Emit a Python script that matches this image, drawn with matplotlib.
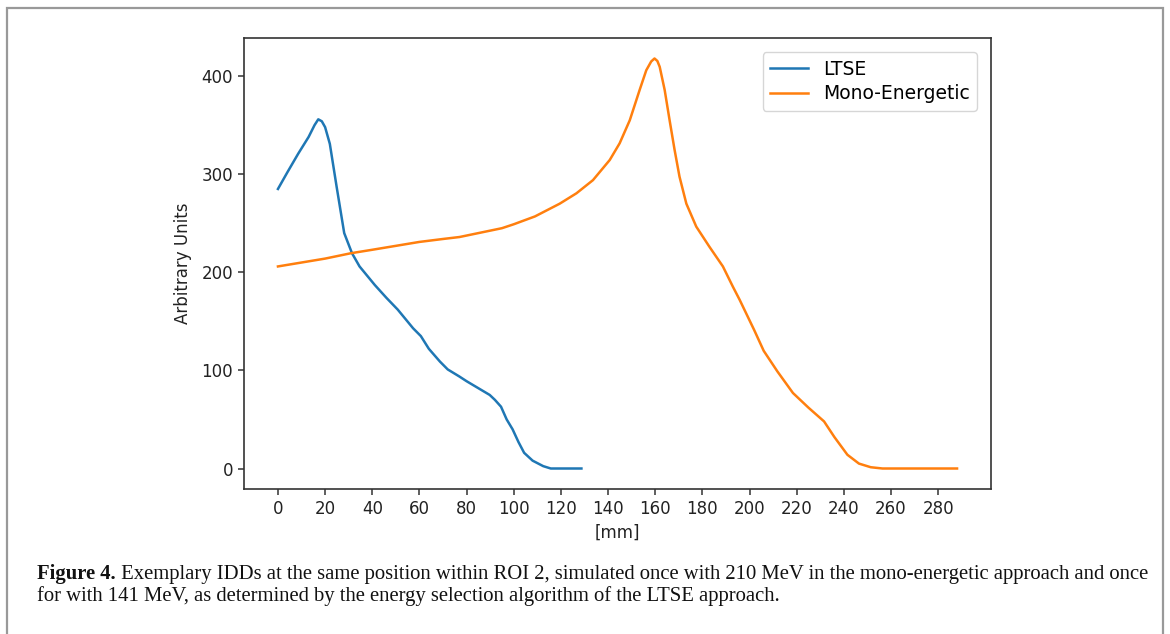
import matplotlib
matplotlib.use("Agg")
import matplotlib.pyplot as plt
from matplotlib.patches import Rectangle

# depth [mm] and dose [arbitrary units]
ltse_x = [0, 4, 8.6, 13, 15.5, 17.1, 18.6, 20, 22, 24.9, 28.1, 31.4, 34.6, 41.1,
          46, 50.8, 57.3, 60.6, 64, 68.7, 72, 76.8, 80, 84.9, 89.8, 92, 94.6,
          97, 99.5, 102, 104.4, 108, 112.5, 115.7, 120, 128.7]
ltse_y = [285, 302, 321, 338, 350, 356, 354, 348, 331, 287, 240, 219.5, 206, 187,
          174, 162, 143, 135, 122, 109, 101, 94, 89, 82, 75, 70, 63,
          50, 40, 27, 16, 8, 2.4, 0, 0, 0]

mono_x = [0, 10, 20, 31, 40, 50, 60, 70, 77, 85, 95, 100, 109, 119.5, 126.6,
          133.6, 140.7, 144.9, 149.2, 153.4, 156.2, 158.3, 159.7, 160.9, 161.9,
          164, 166.1, 168.2, 170.3, 173.2, 177.4, 183, 188.7, 192.9, 195.8, 202,
          206, 211.8, 218.4, 225, 231.6, 236, 241.5, 246.4, 251.4, 256.4, 270,
          288]
mono_y = [206, 210, 214, 219.5, 223, 227, 231, 234, 236, 240, 245, 249, 257, 270,
          280.6, 294, 314.5, 331.5, 355, 386, 406, 415, 418, 415.5, 409.5, 386,
          355, 325, 297.5, 270, 246.6, 226, 206, 185.5, 172, 141, 120, 99, 77, 62,
          48, 32, 14, 5, 1.3, 0, 0, 0]

x_ticks = list(range(0, 281, 20))
y_ticks = [0, 100, 200, 300, 400]

caption_bold = "Figure 4."
caption_line1 = (" Exemplary IDDs at the same position within ROI 2, simulated once "
                 "with 210 MeV in the mono-energetic approach and once")
caption_line2 = ("for with 141 MeV, as determined by the energy selection algorithm "
                 "of the LTSE approach.")

W, H = 1170, 634
fig = plt.figure(figsize=(W / 100, H / 100), dpi=100)
ax = fig.add_axes([244 / W, 1 - 489 / H, (991 - 244) / W, (489 - 38) / H])

ax.plot(ltse_x, ltse_y, color="#1f77b4", linewidth=1.8, label="LTSE")
ax.plot(mono_x, mono_y, color="#ff7f0e", linewidth=1.8, label="Mono-Energetic")

ax.set_xlim(-14.4, 302.4)
ax.set_ylim(-20.9, 438.9)
ax.set_xticks(x_ticks)
ax.set_yticks(y_ticks)
ax.tick_params(labelsize=12, length=4.5, width=1.1, colors="#333333",
               labelcolor="#222222")
for s in ax.spines.values():
    s.set_linewidth(1.2)
    s.set_color("#333333")
ax.set_xlabel("[mm]", fontsize=12, color="#222222", labelpad=4)
ax.set_ylabel("Arbitrary Units", fontsize=12, color="#222222", labelpad=7)

leg = ax.legend(loc="upper right", fontsize=13.5, handlelength=2.0,
                labelspacing=0.3, borderaxespad=0.75)
leg.get_frame().set_edgecolor("#cccccc")

# outer frame of the figure panel
fig.patches.append(Rectangle((7 / W, -0.05), (1163 - 7) / W, 1 - 8 / H + 0.05,
                             transform=fig.transFigure, fill=False,
                             edgecolor="#999999", linewidth=1.6,
                             clip_on=False))

serif = ["Liberation Serif", "DejaVu Serif"]
t = fig.text(37 / W, 1 - 574 / H, caption_bold, fontsize=14.9, fontweight="bold",
             family=serif, va="center", ha="left", color="#111111")
ax.annotate(caption_line1, xy=(1, 0.5), xycoords=t, fontsize=14.9, family=serif,
            va="center", ha="left", color="#111111")
fig.text(37 / W, 1 - 596 / H, caption_line2, fontsize=14.9, family=serif,
         va="center", ha="left", color="#111111")

fig.savefig("out.png", dpi=100)
